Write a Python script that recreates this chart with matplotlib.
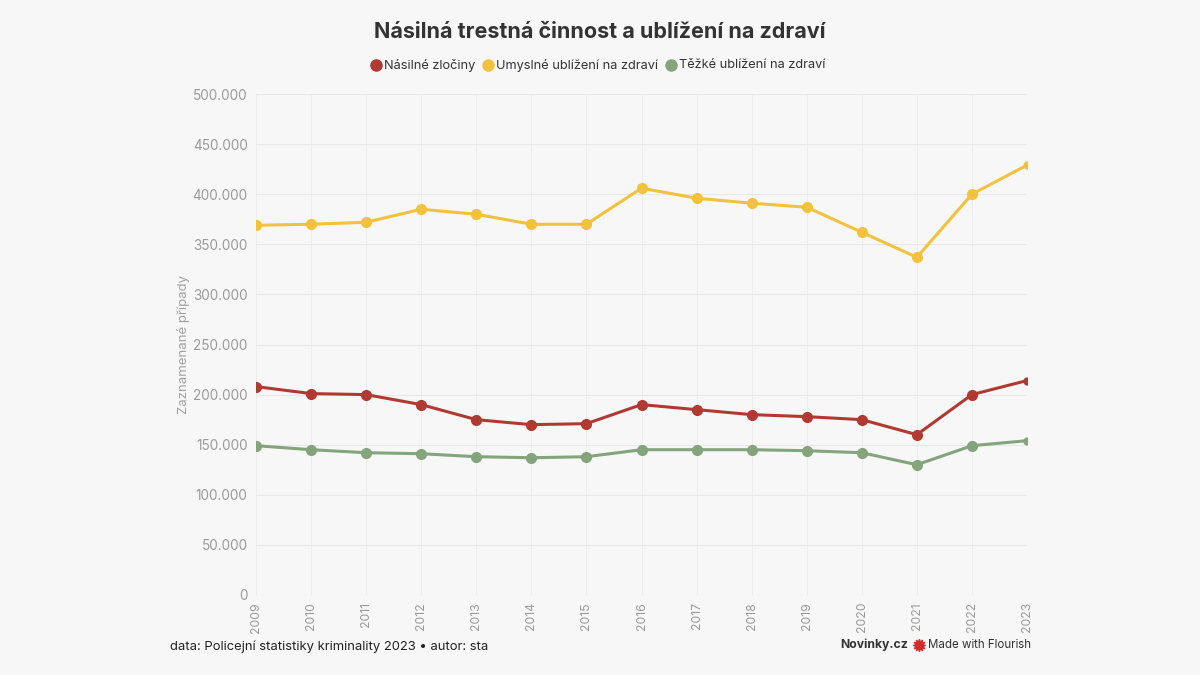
import matplotlib.pyplot as plt
from matplotlib.ticker import FuncFormatter

plt.rcParams['font.family'] = ['Inter', 'DejaVu Sans']

years = list(range(2009, 2024))
nasilne = [208000, 201000, 200000, 190000, 175000, 170000, 171000, 190000,
           185000, 180000, 178000, 175000, 160000, 200000, 214000]
umyslne = [369000, 370000, 372000, 385000, 380000, 370000, 370000, 406000,
           396000, 391000, 387000, 362000, 337000, 400000, 429000]
tezke = [149000, 145000, 142000, 141000, 138000, 137000, 138000, 145000,
         145000, 145000, 144000, 142000, 130000, 149000, 154000]

series = [
    ("Násilné zločiny", nasilne, '#b03a32'),
    ("Umyslné ublížení na zdraví", umyslne, '#f2c23c'),
    ("Těžké ublížení na zdraví", tezke, '#84a47c'),
]

bg = '#f7f7f7'
fig = plt.figure(figsize=(12, 6.75), dpi=100, facecolor=bg)
ax = fig.add_axes([256/1200, 1 - 595/675, (1027-256)/1200, (595-94)/675])
ax.set_facecolor(bg)

for name, vals, col in series:
    ax.plot(years, vals, color=col, lw=2.2, zorder=3)
    ax.plot(years[:-1], vals[:-1], 'o', color=col, ms=7, zorder=4)
    ax.plot(years[-1:], vals[-1:], 'o', color=col, ms=5, zorder=4)

ax.set_xlim(2009, 2023)
ax.set_ylim(0, 500000)
ax.set_yticks(range(0, 500001, 50000))
ax.yaxis.set_major_formatter(FuncFormatter(lambda v, p: f"{int(v):,}".replace(",", ".")))
ax.set_xticks(years)
ax.set_xticklabels([str(y) for y in years], rotation=90)
ax.grid(axis='y', color='#e8e8e8', lw=0.8)
ax.grid(axis='x', color='#ececec', lw=0.6)
for s in ax.spines.values():
    s.set_visible(False)
ax.tick_params(axis='both', length=0, colors='#9a9a9a', labelsize=9.8)
ax.tick_params(axis='x', pad=5, labelsize=8.8)
ax.tick_params(axis='y', pad=6)
ax.set_ylabel("Zaznamenané případy", color='#a0a0a0', fontsize=9.5, labelpad=2)

fig.text(0.5, 1 - 32/675, "Násilná trestná činnost a ublížení na zdraví",
         ha='center', va='center', fontsize=15.5, fontweight='bold', color='#333333')

fig.canvas.draw()
r = fig.canvas.get_renderer()

# legend, centred
leg_y = 1 - 65/675
items = []
total = 0
for name, vals, col in series:
    t = fig.text(0, leg_y, name, color='#333333', fontsize=9.2, ha='left', va='center')
    w = t.get_window_extent(r).width
    items.append((t, col, w))
    total += 13 + w
total += 8 * (len(items) - 1)
x = 598 - total / 2
for t, col, w in items:
    fig.lines.append(plt.Line2D([(x + 5)/1200], [leg_y], marker='o', ms=8, color=col,
                                transform=fig.transFigure, figure=fig))
    t.set_x((x + 13)/1200)
    x += 13 + w + 8

fig.text(170/1200, 1 - 647/675, "data: Policejní statistiky kriminality 2023 • autor: sta",
         fontsize=9.4, color='#222222', ha='left', va='center')

# branding, right aligned
fy = 1 - 645/675
t3 = fig.text(1031/1200, fy, "Made with Flourish", fontsize=8.3, color='#333333',
              ha='right', va='center')
w3 = t3.get_window_extent(r).width
fig.lines.append(plt.Line2D([(1031 - w3 - 9)/1200], [fy], marker=(12, 1, 0), ms=9,
                            color='#d22b2b', transform=fig.transFigure, figure=fig))
fig.text((1031 - w3 - 20)/1200, fy, "Novinky.cz", fontsize=8.8, fontweight='bold',
         color='#333333', ha='right', va='center')

fig.savefig("out.png", dpi=100, facecolor=bg)
